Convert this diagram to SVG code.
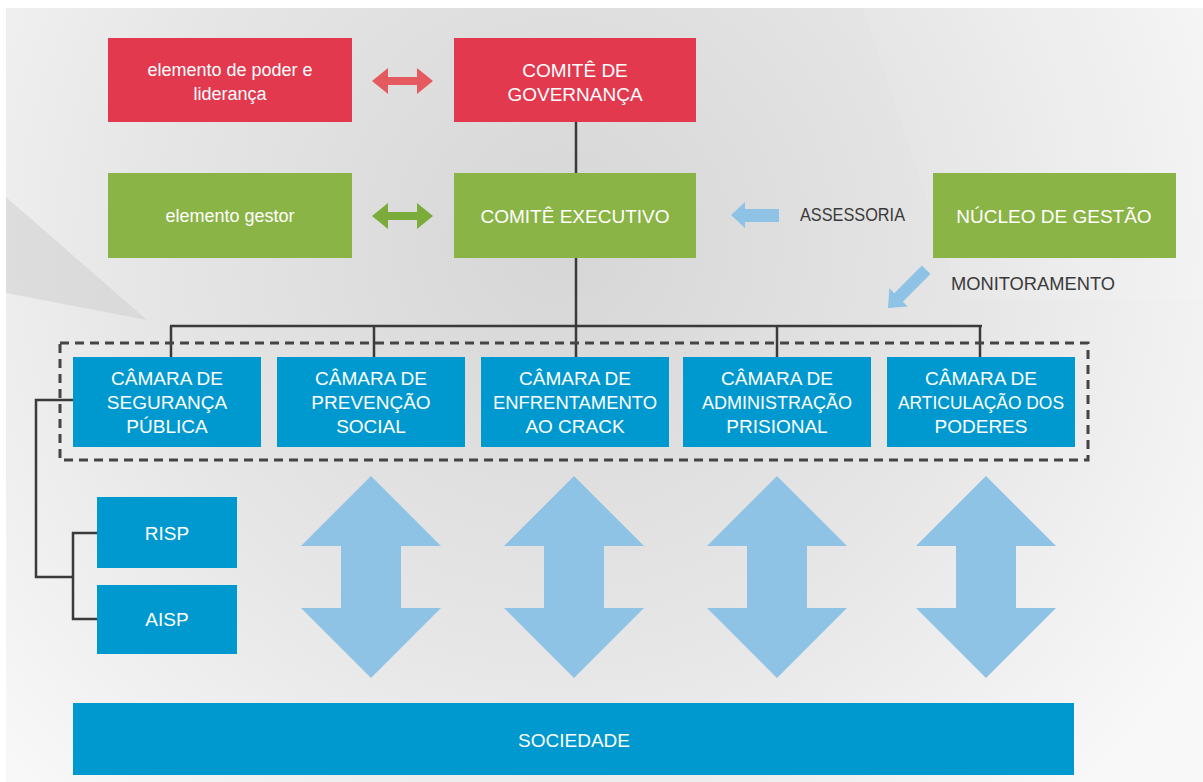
<svg xmlns="http://www.w3.org/2000/svg" width="1203" height="782" viewBox="0 0 1203 782">
<defs>
<radialGradient id="bg" cx="560" cy="240" r="760" gradientUnits="userSpaceOnUse">
<stop offset="0" stop-color="#d6d6d6"/>
<stop offset="0.55" stop-color="#e6e6e6"/>
<stop offset="1" stop-color="#f8f8f8"/>
</radialGradient>
<style>
.red{fill:#e2394f}
.green{fill:#8bb446}
.blue{fill:#0099cf}
.lb{fill:#8ec3e6}
.t{font-family:"Liberation Sans Narrow","Liberation Sans",Arial,sans-serif;fill:#ffffff;text-anchor:middle;dominant-baseline:central}
.up{font-size:19px}
.lo{font-size:18px}
.lbl{font-family:"Liberation Sans Narrow","Liberation Sans",Arial,sans-serif;fill:#3a3a3a;font-size:18px;dominant-baseline:central}
.ln{stroke:#3a3a3a;stroke-width:2.5;fill:none}
</style>
</defs>
<rect x="0" y="0" width="1203" height="782" fill="#ffffff"/>
<rect x="6" y="8" width="1197" height="774" fill="url(#bg)"/>
<polygon points="6,197 147,320 6,293" fill="#c9c9c9" opacity="0.45"/>
<polygon points="863,8 1203,8 1203,300 960,300" fill="#ffffff" opacity="0.1"/>

<g id="connectors">
<line class="ln" x1="576" y1="122" x2="576" y2="173"/>
<line class="ln" x1="576" y1="258" x2="576" y2="326"/>
<line class="ln" x1="170" y1="326" x2="982" y2="326"/>
<line class="ln" x1="171" y1="326" x2="171" y2="357"/>
<line class="ln" x1="374" y1="326" x2="374" y2="357"/>
<line class="ln" x1="576" y1="326" x2="576" y2="357"/>
<line class="ln" x1="777" y1="326" x2="777" y2="357"/>
<line class="ln" x1="980" y1="326" x2="980" y2="357"/>
<polyline class="ln" points="73,400 36,400 36,577 73,577"/>
<polyline class="ln" points="97,533 73,533 73,619 97,619"/>
<rect x="60" y="343" width="1028" height="117" fill="none" stroke="#444444" stroke-width="3" stroke-dasharray="9 6"/>
<polygon points="372,81 388,68 388,77 417,77 417,68 433,81 417,94 417,85 388,85 388,94" fill="#e55a5f"/>
<polygon points="372,216 388,203 388,212 417,212 417,203 433,216 417,229 417,220 388,220 388,229" fill="#7bab3a"/>
<polygon class="lb" points="731,215 745,202 745,209 779,209 779,222 745,222 745,228"/>
<polygon class="lb" transform="translate(888,308) rotate(-45)" points="0,0 15,-13 15,-6 54,-6 54,6 15,6 15,13"/>
<polygon class="lb" points="371,476 441,546 401,546 401,608 441,608 371,678 301,608 341,608 341,546 301,546"/>
<polygon class="lb" points="574,476 644,546 604,546 604,608 644,608 574,678 504,608 544,608 544,546 504,546"/>
<polygon class="lb" points="777,476 847,546 807,546 807,608 847,608 777,678 707,608 747,608 747,546 707,546"/>
<polygon class="lb" points="986,476 1056,546 1016,546 1016,608 1056,608 986,678 916,608 956,608 956,546 916,546"/>
<text class="lbl" x="800" y="215" textLength="105" lengthAdjust="spacingAndGlyphs">ASSESSORIA</text>
<text class="lbl" x="951" y="284" textLength="164" lengthAdjust="spacingAndGlyphs">MONITORAMENTO</text>
</g>

<g id="n-poder">
<rect class="red" x="108" y="38" width="244" height="84"/>
<text class="t lo" x="230" y="70">elemento de poder e</text>
<text class="t lo" x="230" y="94">liderança</text>
</g>
<g id="n-governanca">
<rect class="red" x="454" y="38" width="242" height="84"/>
<text class="t up" x="575" y="70">COMITÊ DE</text>
<text class="t up" x="575" y="94">GOVERNANÇA</text>
</g>
<g id="n-gestor">
<rect class="green" x="108" y="173" width="244" height="85"/>
<text class="t lo" x="230" y="216">elemento gestor</text>
</g>
<g id="n-executivo">
<rect class="green" x="454" y="173" width="242" height="85"/>
<text class="t up" x="575" y="216">COMITÊ EXECUTIVO</text>
</g>
<g id="n-nucleo">
<rect class="green" x="933" y="173" width="243" height="85"/>
<text class="t up" x="1054" y="216">NÚCLEO DE GESTÃO</text>
</g>
<g id="n-cam1">
<rect class="blue" x="73" y="357" width="188" height="90"/>
<text class="t up" x="167" y="378">CÂMARA DE</text>
<text class="t up" x="167" y="402">SEGURANÇA</text>
<text class="t up" x="167" y="426">PÚBLICA</text>
</g>
<g id="n-cam2">
<rect class="blue" x="277" y="357" width="188" height="90"/>
<text class="t up" x="371" y="378">CÂMARA DE</text>
<text class="t up" x="371" y="402">PREVENÇÃO</text>
<text class="t up" x="371" y="426">SOCIAL</text>
</g>
<g id="n-cam3">
<rect class="blue" x="481" y="357" width="188" height="90"/>
<text class="t up" x="575" y="378">CÂMARA DE</text>
<text class="t up" x="575" y="402" textLength="164" lengthAdjust="spacingAndGlyphs">ENFRENTAMENTO</text>
<text class="t up" x="575" y="426">AO CRACK</text>
</g>
<g id="n-cam4">
<rect class="blue" x="683" y="357" width="188" height="90"/>
<text class="t up" x="777" y="378">CÂMARA DE</text>
<text class="t up" x="777" y="402" textLength="150" lengthAdjust="spacingAndGlyphs">ADMINISTRAÇÃO</text>
<text class="t up" x="777" y="426">PRISIONAL</text>
</g>
<g id="n-cam5">
<rect class="blue" x="887" y="357" width="188" height="90"/>
<text class="t up" x="981" y="378">CÂMARA DE</text>
<text class="t up" x="981" y="402" textLength="166" lengthAdjust="spacingAndGlyphs">ARTICULAÇÃO DOS</text>
<text class="t up" x="981" y="426">PODERES</text>
</g>
<g id="n-risp">
<rect class="blue" x="97" y="497" width="140" height="71"/>
<text class="t up" x="167" y="533">RISP</text>
</g>
<g id="n-aisp">
<rect class="blue" x="97" y="585" width="140" height="69"/>
<text class="t up" x="167" y="619">AISP</text>
</g>
<g id="n-sociedade">
<rect class="blue" x="73" y="703" width="1001" height="72"/>
<text class="t up" x="574" y="740">SOCIEDADE</text>
</g>
</svg>
